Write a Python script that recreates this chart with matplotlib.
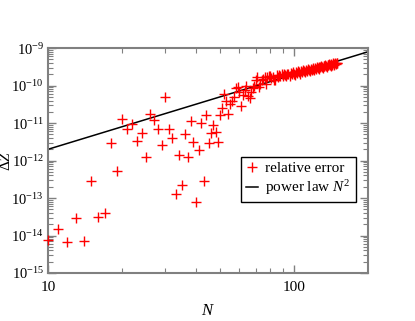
import matplotlib
matplotlib.use('Agg')
import matplotlib.pyplot as plt
from matplotlib.ticker import LogLocator, LogFormatterMathtext, NullFormatter, FixedLocator

plt.rcParams['font.family'] = 'Liberation Serif'
plt.rcParams['mathtext.fontset'] = 'custom'
plt.rcParams['mathtext.rm'] = 'Liberation Serif'
plt.rcParams['mathtext.it'] = 'Liberation Serif:italic'

# relative error vs N
N = [10, 11, 12, 13, 14, 15, 16, 17, 18, 19,
     20, 21, 22, 23, 24, 25, 26, 27, 28, 29,
     30, 31, 32, 33, 34, 35, 36, 37, 38, 39,
     40, 41, 42, 43, 44, 45, 46, 47, 48, 49,
     50, 51, 52, 53, 54, 55, 56, 57, 58, 59,
     60, 61, 62, 63, 64, 65, 66, 67, 68, 69,
     70, 71, 72, 73, 74, 75, 76, 77, 78, 79,
     80, 81, 82, 83, 84, 85, 86, 87, 88, 89,
     90, 91, 92, 93, 94, 95, 96, 97, 98, 99,
     100, 101, 102, 103, 104, 105, 106, 107, 108, 109,
     110, 111, 112, 113, 114, 115, 116, 117, 118, 119,
     120, 121, 122, 123, 124, 125, 126, 127, 128, 129,
     130, 131, 132, 133, 134, 135, 136, 137, 138, 139,
     140, 141, 142, 143, 144, 145, 146, 147, 148, 149, 150]
err = [7.6e-15, 1.5e-14, 6.7e-15, 2.9e-14, 7.2e-15, 2.9e-13, 3.1e-14, 3.9e-14, 2.9e-12, 5.3e-13,
       1.26e-11, 6.9e-12, 9.3e-12, 3.3e-12, 5.6e-12, 1.22e-12, 1.7e-11, 1.23e-11, 6.9e-12, 2.6e-12,
       4.9e-11, 6.8e-12, 3.9e-12, 1.3e-13, 1.4e-12, 2.2e-13, 5.2e-12, 1.27e-12, 1.15e-11, 3.2e-12,
       7.7e-14, 1.9e-12, 1.0e-11, 2.8e-13, 1.6e-11, 2.9e-12, 5.4e-12, 9.1e-12, 5.8e-12, 3.1e-12,
       1.6e-11, 2.5e-11, 5.9e-11, 4.0e-11, 1.7e-11, 3.2e-11, 4.0e-11, 4.9e-11, 8.9e-11, 9.0e-11,
       6.7e-11, 2.9e-11, 5.6e-11, 7.6e-11, 1.0e-10, 5.3e-11, 4.6e-11, 6.7e-11, 8.5e-11, 9.7e-11,
       1.40e-10, 1.65e-10, 0.93e-10, 1.10e-10, 1.40e-10, 1.50e-10, 1.65e-10, 1.10e-10, 1.70e-10, 1.85e-10,
       1.80e-10, 1.60e-10, 1.75e-10, 1.45e-10, 1.40e-10, 1.90e-10, 1.75e-10, 1.95e-10, 1.80e-10, 2.00e-10,
       1.85e-10, 2.05e-10, 1.90e-10, 1.80e-10, 2.10e-10, 2.00e-10, 1.85e-10, 2.15e-10, 2.05e-10, 2.25e-10,
       2.10e-10, 1.95e-10, 2.30e-10, 2.20e-10, 2.40e-10, 2.25e-10, 2.10e-10, 2.45e-10, 2.35e-10, 2.55e-10,
       2.40e-10, 2.30e-10, 2.60e-10, 2.50e-10, 2.70e-10, 2.55e-10, 2.45e-10, 2.80e-10, 2.65e-10, 2.90e-10,
       2.75e-10, 2.60e-10, 2.95e-10, 2.85e-10, 3.10e-10, 2.95e-10, 2.80e-10, 3.20e-10, 3.05e-10, 3.30e-10,
       3.15e-10, 2.95e-10, 3.40e-10, 3.25e-10, 3.50e-10, 3.35e-10, 3.15e-10, 3.60e-10, 3.45e-10, 3.75e-10,
       3.55e-10, 3.35e-10, 3.80e-10, 3.65e-10, 3.90e-10, 3.70e-10, 3.50e-10, 3.95e-10, 3.80e-10, 4.05e-10, 3.90e-10]

# power law N^2 end points
law_N = [10, 200]
law_val = [2.0e-12, 8.0e-10]

fig = plt.figure(figsize=(4.15, 3.21), dpi=100)
ax = fig.add_axes([0.1157, 0.1495, 0.7710, 0.7005])

ax.plot(N, err, linestyle='none', marker='+', color='red', markersize=6.5, mew=1.0,
        label='relative error', clip_on=False, zorder=3)
ax.plot(law_N, law_val, color='black', lw=1.1, label='power law $\\mathit{N}^2$', zorder=2)

ax.set_xscale('log')
ax.set_yscale('log')
ax.set_xlim(10, 200)
ax.set_ylim(1e-15, 1e-9)

ax.xaxis.set_major_locator(FixedLocator([10, 100]))
ax.set_xticklabels(['10', '100'])
ax.xaxis.set_minor_locator(FixedLocator([20, 30, 40, 50, 60, 70, 80, 90]))
ax.xaxis.set_minor_formatter(NullFormatter())
ax.yaxis.set_major_locator(LogLocator(base=10, numticks=10))
ax.yaxis.set_major_formatter(LogFormatterMathtext())
ax.yaxis.set_minor_locator(LogLocator(base=10, subs=range(2, 10), numticks=20))
ax.yaxis.set_minor_formatter(NullFormatter())

gray = '#808080'
for s in ax.spines.values():
    s.set_color(gray)
    s.set_linewidth(1.5)
ax.tick_params(which='both', direction='in', top=True, right=True, color=gray,
               labelsize=11, labelcolor='black')
ax.tick_params(axis='y', which='major', labelsize=10.5, pad=3)
ax.tick_params(which='major', length=6, width=1.0)
ax.tick_params(which='minor', length=3.5, width=0.8)
ax.tick_params(axis='x', which='major', pad=6)

ax.set_xlabel('$\\mathit{N}$', fontsize=12, labelpad=6)
ax.set_ylabel('$\\Delta\\mathit{Z}$', fontsize=11)
ax.yaxis.set_label_coords(-0.11, 0.5)

leg = ax.legend(loc='upper left', bbox_to_anchor=(0.603, 0.516), fontsize=11,
                fancybox=False, framealpha=1, edgecolor='black', borderpad=0.3,
                handlelength=0.8, handletextpad=0.5, labelspacing=0.2, borderaxespad=0)
leg.get_frame().set_linewidth(1.0)

fig.savefig('out.png', dpi=100)
